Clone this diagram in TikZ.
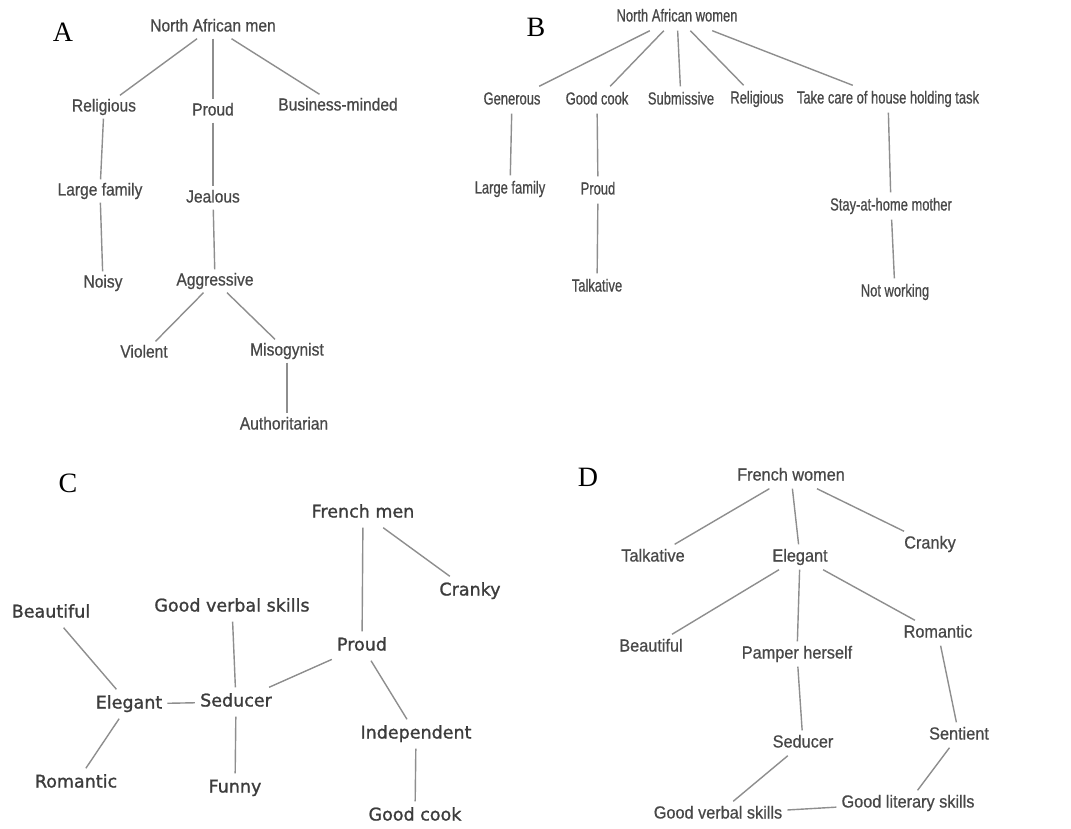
\documentclass[tikz,border=0pt]{standalone}
\usepackage{fontspec}
\setmainfont{Liberation Sans}
\newfontfamily\fa[FakeStretch=0.89,FakeBold=0.6]{Liberation Sans}
\newfontfamily\fb[FakeStretch=0.74,FakeBold=0.6]{Liberation Sans}
\newfontfamily\fc[FakeBold=1.2]{DejaVu Sans}
\newfontfamily\fd[FakeStretch=0.93,FakeBold=0.6]{Liberation Sans}
\newfontfamily\fl{Liberation Serif}
\definecolor{txt}{HTML}{484848}
\definecolor{ctxt}{HTML}{3C3C3C}
\definecolor{ln}{HTML}{8E8E8E}
\begin{document}
\begin{tikzpicture}[x=1pt,y=-1pt,
  lbl/.style={inner xsep=5pt, text height=12.5pt, text depth=3.5pt, text=txt},
  ta/.style={lbl, inner ysep=3.5pt, font=\fa\fontsize{17.5}{19}\selectfont},
  tb/.style={lbl, inner ysep=5.5pt, font=\fb\fontsize{17.5}{19}\selectfont},
  tc/.style={inner xsep=5pt, inner ysep=6pt, text height=13pt, text depth=4pt, text=ctxt, font=\fc\fontsize{17.5}{19}\selectfont},
  td/.style={lbl, inner ysep=4.5pt, font=\fd\fontsize{17.5}{19}\selectfont},
  edge/.style={draw=ln, line width=1.4pt},
  panel/.style={inner sep=0pt, text=black, font=\fl\fontsize{28}{30}\selectfont}]
\fill[white] (0,0) rectangle (1071,829);
\useasboundingbox (0,0) rectangle (1071,829);

% ---------------- Panel A ----------------
\node[panel] (pA) at (63,32) {A};
\node[ta] (a0) at (213,27) {North African men};
\node[ta] (a1) at (104,107) {Religious};
\node[ta] (a2) at (213,111) {Proud};
\node[ta] (a3) at (338,106) {Business-minded};
\node[ta] (a4) at (100,191) {Large family};
\node[ta] (a5) at (213,198) {Jealous};
\node[ta] (a6) at (103,283) {Noisy};
\node[ta] (a7) at (215,281) {Aggressive};
\node[ta] (a8) at (144,353) {Violent};
\node[ta] (a9) at (287,351) {Misogynist};
\node[ta] (a10) at (284,425) {Authoritarian};
\draw[edge] (a0) -- (a1);
\draw[edge] (a0) -- (a2);
\draw[edge] (a0) -- (a3);
\draw[edge] (a1) -- (a4);
\draw[edge] (a4) -- (a6);
\draw[edge] (a2) -- (a5);
\draw[edge] (a5) -- (a7);
\draw[edge] (a7) -- (a8);
\draw[edge] (a7) -- (a9);
\draw[edge] (a9.south -| a9) -- (a10.north -| a9);

% ---------------- Panel B ----------------
\node[panel] (pB) at (536,27) {B};
\node[tb] (b0) at (677,17) {North African women};
\node[tb] (b1) at (512,100) {Generous};
\node[tb] (b2) at (597,100) {Good cook};
\node[tb] (b3) at (681,100) {Submissive};
\node[tb] (b4) at (757,99) {Religious};
\node[tb] (b5) at (888,99) {Take care of house holding task};
\node[tb] (b6) at (510,189) {Large family};
\node[tb] (b7) at (598,190) {Proud};
\node[tb] (b8) at (597,287) {Talkative};
\node[tb] (b9) at (891,206) {Stay-at-home mother};
\node[tb] (b10) at (895,292) {Not working};
\draw[edge] (b0) -- (b1);
\draw[edge] (b0) -- (b2);
\draw[edge] (b0) -- (b3);
\draw[edge] (b0) -- (b4);
\draw[edge] (b0) -- (b5);
\draw[edge] (b1) -- (b6);
\draw[edge] (b2) -- (b7);
\draw[edge] (b7) -- (b8);
\draw[edge] (b5) -- (b9);
\draw[edge] (b9) -- (b10);

% ---------------- Panel C ----------------
\node[panel] (pC) at (68,483) {C};
\node[tc] (c0) at (363,513) {French men};
\node[tc] (c1) at (470,591) {Cranky};
\node[tc] (c2) at (51,613) {Beautiful};
\node[tc] (c3) at (232,607) {Good verbal skills};
\node[tc] (c4) at (362,646) {Proud};
\node[tc] (c5) at (129,704) {Elegant};
\node[tc] (c6) at (236,702) {Seducer};
\node[tc] (c7) at (416,734) {Independent};
\node[tc] (c8) at (76,783) {Romantic};
\node[tc] (c9) at (235,788) {Funny};
\node[tc] (c10) at (415,816) {Good cook};
\draw[edge] (c0) -- (c1);
\draw[edge] (c0) -- (c4);
\draw[edge] (c2) -- (c5);
\draw[edge] (c3) -- (c6);
\draw[edge] (c4) -- (c6);
\draw[edge] (c4) -- (c7);
\draw[edge] (c5) -- (c6);
\draw[edge] (c5) -- (c8);
\draw[edge] (c6) -- (c9);
\draw[edge] (c7) -- (c10);

% ---------------- Panel D ----------------
\node[panel] (pD) at (588,477) {D};
\node[td] (d0) at (791,476) {French women};
\node[td] (d1) at (653,557) {Talkative};
\node[td] (d2) at (800,557) {Elegant};
\node[td] (d3) at (930,544) {Cranky};
\node[td] (d4) at (651,647) {Beautiful};
\node[td] (d5) at (797,654) {Pamper herself};
\node[td] (d6) at (938,633) {Romantic};
\node[td] (d7) at (803,743) {Seducer};
\node[td] (d8) at (959,735) {Sentient};
\node[td] (d9) at (718,814) {Good verbal skills};
\node[td] (d10) at (908,803) {Good literary skills};
\draw[edge] (d0) -- (d1);
\draw[edge] (d0) -- (d2);
\draw[edge] (d0) -- (d3);
\draw[edge] (d2) -- (d4);
\draw[edge] (d2) -- (d5);
\draw[edge] (d2) -- (d6);
\draw[edge] (d5) -- (d7);
\draw[edge] (d6) -- (d8);
\draw[edge] (d7) -- (d9);
\draw[edge] (d8) -- (d10);
\draw[edge] (d9) -- (d10);
\end{tikzpicture}
\end{document}
